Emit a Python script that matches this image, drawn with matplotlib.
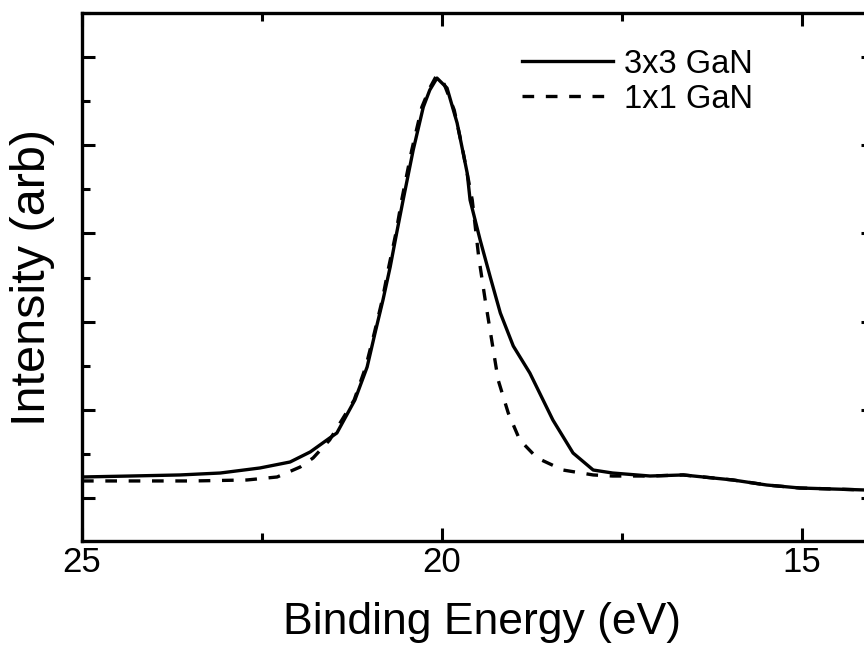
import matplotlib
matplotlib.use("Agg")
import matplotlib.pyplot as plt
from matplotlib.ticker import MultipleLocator, NullFormatter

plt.rcParams['font.family'] = ['Liberation Sans', 'DejaVu Sans']

# Valence band spectra (binding energy in eV, intensity in arbitrary units)
energy_3x3 = [25.00, 24.33, 23.64, 23.08, 22.53, 22.11, 21.83, 21.56, 21.46,
              21.21, 21.04, 20.93, 20.82, 20.72, 20.63, 20.54, 20.40, 20.26,
              20.17, 20.07, 19.93, 19.79, 19.65, 19.61, 19.47, 19.33, 19.19,
              19.01, 18.78, 18.46, 18.18, 17.90, 17.63, 17.11, 16.65, 15.96,
              15.49, 15.03, 14.14, 14.00]
intensity_3x3 = [1.238, 1.249, 1.261, 1.283, 1.340, 1.408, 1.522, 1.680, 1.737,
                 2.111, 2.485, 2.871, 3.245, 3.619, 4.004, 4.379, 4.946, 5.433,
                 5.626, 5.762, 5.649, 5.252, 4.685, 4.379, 3.925, 3.506, 3.098,
                 2.723, 2.417, 1.884, 1.510, 1.317, 1.283, 1.249, 1.261, 1.204,
                 1.147, 1.113, 1.091, 1.088]

energy_1x1 = [25.00, 23.46, 22.71, 22.29, 21.97, 21.79, 21.56, 21.22, 21.06,
              20.94, 20.83, 20.74, 20.64, 20.56, 20.42, 20.28, 20.17, 20.08,
              19.97, 19.83, 19.72, 19.58, 19.49, 19.40, 19.31, 19.22, 19.08,
              18.92, 18.68, 18.32, 17.90, 17.63, 17.11, 16.65, 15.96, 15.49,
              15.03, 14.14, 14.00]
intensity_1x1 = [1.193, 1.193, 1.204, 1.238, 1.351, 1.454, 1.658, 2.111, 2.485,
                 2.871, 3.245, 3.619, 4.004, 4.379, 4.946, 5.433, 5.649, 5.785,
                 5.694, 5.399, 4.980, 4.379, 3.732, 3.245, 2.791, 2.338, 1.964,
                 1.658, 1.454, 1.317, 1.261, 1.249, 1.249, 1.261, 1.204, 1.147,
                 1.113, 1.091, 1.088]

series_labels = ['3x3 GaN', '1x1 GaN']
x_ticks = [25, 20, 15]

fig = plt.figure(figsize=(8.64, 6.46), dpi=100)
ax = fig.add_axes([82 / 864, 105 / 646, 792 / 864, 528 / 646])

ax.plot(energy_3x3, intensity_3x3, color='black', lw=2.4, ls='-',
        label=series_labels[0])
ax.plot(energy_1x1, intensity_1x1, color='black', lw=2.4,
        ls=(0, (3.5, 3.5)), label=series_labels[1])

ax.set_xlim(25, 14)
ax.set_ylim(0.512, 6.5)

ax.set_xticks(x_ticks)
ax.set_xticklabels([str(t) for t in x_ticks])
ax.xaxis.set_minor_locator(MultipleLocator(2.5))
ax.yaxis.set_major_locator(MultipleLocator(1))
ax.yaxis.set_minor_locator(MultipleLocator(0.5))
ax.yaxis.set_major_formatter(NullFormatter())

ax.tick_params(which='both', direction='in', top=True, right=True,
               width=2.2, labelsize=25, pad=3.5)
ax.tick_params(which='major', length=9.5)
ax.tick_params(which='minor', length=5.5)
for sp in ax.spines.values():
    sp.set_linewidth(2.4)

ax.set_xlabel('Binding Energy (eV)', fontsize=32)
ax.xaxis.set_label_coords(0.505, -0.116)
ax.set_ylabel('Intensity (arb)', fontsize=35)
ax.yaxis.set_label_coords(-0.034, 0.5)

leg = ax.legend(loc='upper left', bbox_to_anchor=(0.5556, 0.932),
                frameon=False, fontsize=23.5, handlelength=2.79,
                handletextpad=0.34, labelspacing=0.12, borderaxespad=0,
                borderpad=0)

fig.savefig('out.png', dpi=100)
